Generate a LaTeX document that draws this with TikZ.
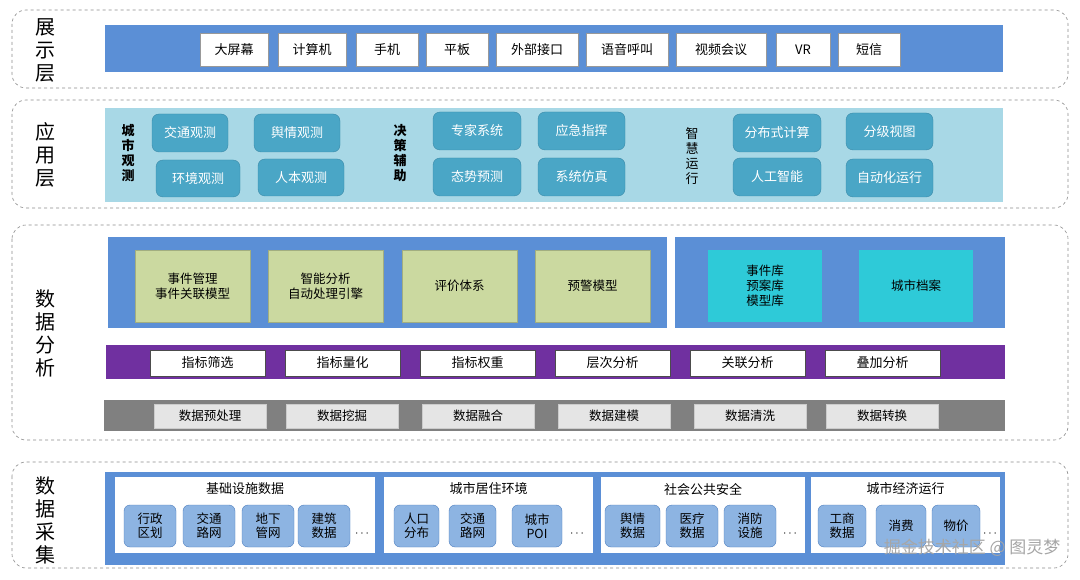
\documentclass[tikz,border=0pt]{standalone}
\usepackage{fontspec}
\setmainfont{Noto Sans CJK SC}
\begin{document}
\begin{tikzpicture}[x=1pt,y=-1pt,
 layer/.style={draw=black!45,dashed,rounded corners=14pt,line width=0.6pt},
 lab/.style={font=\fontsize{20}{23}\selectfont,align=center},
 wbox/.style={draw=black!40,fill=white,font=\fontsize{13}{14}\selectfont,inner sep=0pt},
 tbtn/.style={draw=tbd,fill=tbf,rounded corners=7pt,text=white,font=\fontsize{13}{14}\selectfont,inner sep=0pt},
 vlab/.style={font=\bfseries\fontsize{13}{15}\selectfont,align=center},
 sbox/.style={draw=sbd,fill=sbf,rounded corners=6pt,font=\fontsize{12.5}{14}\selectfont,align=center,inner sep=0pt},
 gbox/.style={fill=black!10,draw=black!20,font=\fontsize{12.5}{14}\selectfont,inner sep=0pt},
]
\definecolor{bbar}{HTML}{5B8FD6}
\definecolor{lbar}{HTML}{A8D8E6}
\definecolor{grn}{HTML}{CBD9A0}
\definecolor{cya}{HTML}{2ECAD8}
\definecolor{pur}{HTML}{7030A0}
\definecolor{tbf}{HTML}{4AA6C6}
\definecolor{tbd}{HTML}{3A8AA8}
\definecolor{sbf}{HTML}{8DB4E2}
\definecolor{sbd}{HTML}{4F7FBF}
\useasboundingbox (0,0) rectangle (1080,580);
\fill[white] (0,0) rectangle (1080,580);
% layer 1
\draw[layer] (12,10) rectangle (1068,88);
\node[lab] (l1) at (45,50) {展\\示\\层};
\fill[bbar] (105,25) rectangle (1003,72);
\foreach \a/\b/\t [count=\i] in {200/268/大屏幕,278/346/计算机,356/418/手机,426/488/平板,496/578/外部接口,586/668/语音呼叫,676/766/视频会议,776/830/VR,838/900/短信}
 {\node[wbox,minimum width=\b-\a,minimum height=33] (d\i) at ({(\a+\b)/2},49.5) {\t};}
% layer 2
\draw[layer] (12,100) rectangle (1068,208);
\node[lab] (l2) at (45,155) {应\\用\\层};
\fill[lbar] (105,108) rectangle (1003,202);
\node[vlab] (v1) at (128,153) {城\\市\\观\\测};
\node[vlab] (v2) at (400,153) {决\\策\\辅\\助};
\node[vlab,font=\fontsize{13}{15}\selectfont] (v3) at (692,156) {智\\慧\\运\\行};
\foreach \a/\b/\c/\d/\t [count=\i] in {152/228/114/152/交通观测,254/340/114/152/舆情观测,156/240/160/197/环境观测,258/344/159/196/人本观测,433/521/112/150/专家系统,538/625/112/150/应急指挥,433/521/158/196/态势预测,538/625/158/196/系统仿真,733/821/114/152/分布式计算,846/933/113/150/分级视图,733/821/158/196/人工智能,846/933/159/197/自动化运行}
 {\node[tbtn,minimum width=\b-\a,minimum height=\d-\c] (a\i) at ({(\a+\b)/2},{(\c+\d)/2}) {\t};}
% layer 3
\draw[layer] (12,225) rectangle (1068,440);
\node[lab] (l3) at (45,333) {数\\据\\分\\析};
\fill[bbar] (108,237) rectangle (667,328);
\fill[bbar] (675,237) rectangle (1005,328);
\foreach \a/\t [count=\i] in {135/{事件管理\\事件关联模型},268/{智能分析\\自动处理引擎},402/评价体系,535/预警模型}
 {\node[fill=grn,draw=grn!80!black,minimum width=115,minimum height=72,align=center,font=\fontsize{12.5}{15}\selectfont,inner sep=0pt] (g\i) at (\a+57.5,286) {\t};}
\node[fill=cya,minimum width=114,minimum height=72,align=center,font=\fontsize{12.5}{15}\selectfont] (c1) at (765,286) {事件库\\预案库\\模型库};
\node[fill=cya,minimum width=114,minimum height=72,font=\fontsize{12.5}{15}\selectfont] (c2) at (916,286) {城市档案};
\fill[pur] (106,345) rectangle (1005,379);
\foreach \a/\t [count=\i] in {150/指标筛选,285/指标量化,420/指标权重,555/层次分析,690/关联分析,825/叠加分析}
 {\node[wbox,draw=black!70,minimum width=115,minimum height=26] (p\i) at (\a+57.5,363) {\t};}
\fill[black!50] (104,400) rectangle (1005,431);
\foreach \a/\t [count=\i] in {154/数据预处理,286/数据挖掘,422/数据融合,558/数据建模,694/数据清洗,826/数据转换}
 {\node[gbox,minimum width=112,minimum height=24] (q\i) at (\a+56,416) {\t};}
% layer 4
\draw[layer] (12,462) rectangle (1068,568);
\node[lab] (l4) at (45,520) {数\\据\\采\\集};
\fill[bbar] (105,472) rectangle (1005,565);
\foreach \a/\b/\t [count=\i] in {115/375/基础设施数据,384/593/城市居住环境,601/805/社会公共安全,811/1000/城市经济运行}
 {\fill[white] (\a,477) rectangle (\b,553);
  \node[font=\fontsize{13}{14}\selectfont] (h\i) at ({(\a+\b)/2},489) {\t};}
\foreach \a/\b/\t [count=\i] in {124/176/{行政\\区划},183/235/{交通\\路网},242/294/{地下\\管网},298/350/{建筑\\数据},394/439/{人口\\分布},449/496/{交通\\路网},512/562/{城市\\POI},605/660/{舆情\\数据},666/718/{医疗\\数据},724/776/{消防\\设施},818/866/{工商\\数据},876/926/{消费},932/980/{物价}}
 {\node[sbox,minimum width=\b-\a,minimum height=42] (s\i) at ({(\a+\b)/2},526) {\t};}
\foreach \x [count=\i] in {362,577,790,990} {\node[font=\fontsize{12}{12}\selectfont] (e\i) at (\x,534) {$\cdots$};}
\node[text=black!35,font=\fontsize{17}{18}\selectfont,anchor=east] (wm) at (1064,548) {掘金技术社区 @ 图灵梦};
\end{tikzpicture}
\end{document}
